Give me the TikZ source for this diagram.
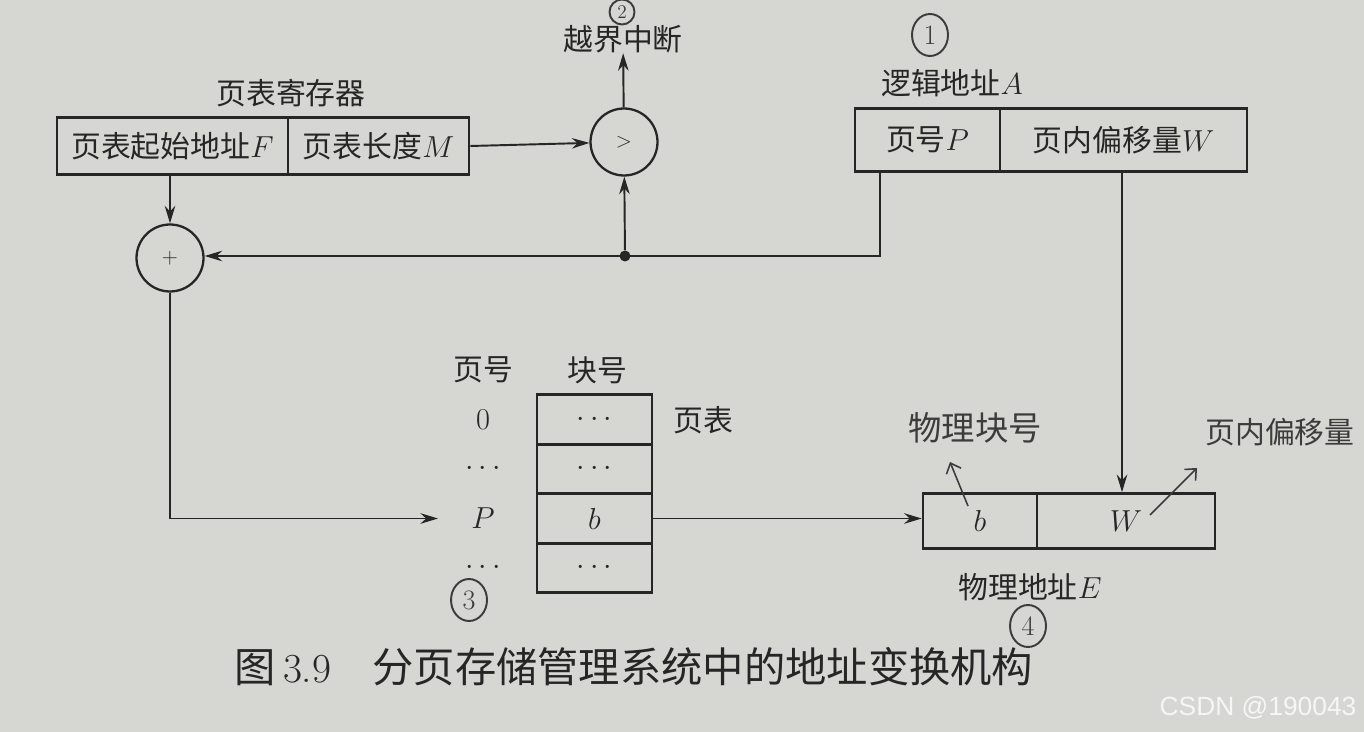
\documentclass[tikz,border=0pt]{standalone}
\usepackage{fontspec}
\usepackage{tikz}
\usetikzlibrary{positioning, shapes.geometric, arrows.meta, calc}
\usepackage{xcolor}
\newfontfamily\cjk{Noto Sans CJK SC}
\newfontfamily\wmfont{Liberation Sans}
\definecolor{pgpaper}{HTML}{D6D6D3}
\definecolor{pgink}{HTML}{262626}
\definecolor{pgpen}{HTML}{3C3C3C}
\definecolor{pgmark}{HTML}{F6F6F6}

\begin{document}
\begin{tikzpicture}[x=0.02cm, y=-0.02cm,
    txt/.style={text=pgink, font=\cjk\fontsize{17}{20}\selectfont, inner sep=0pt},
    cell/.style={draw=pgink, line width=1.5pt, text=pgink,
                 font=\cjk\fontsize{17}{20}\selectfont, inner sep=0pt},
    op/.style={circle, draw=pgink, line width=1.3pt, minimum size=1.34cm,
               inner sep=0pt, text=pgink, font=\fontsize{13}{15}\selectfont},
    link/.style={draw=pgink, line width=1.1pt, -{Stealth[length=10pt, width=6pt]}},
    hand/.style={text=pgpen, font=\cjk\fontsize{19}{22}\selectfont, inner sep=0pt},
    handnum/.style={ellipse, draw=pgpen, line width=1.1pt, text=pgpen,
                    minimum width=0.72cm, minimum height=0.84cm, inner sep=0pt,
                    font=\fontsize{16}{18}\selectfont},
    handarrow/.style={draw=pgpen, line width=0.9pt, -{Straight Barb[length=5pt, width=9pt]}}]
  \fill[pgpaper] (0,0) rectangle (1364,732);
  \useasboundingbox (0,0) rectangle (1364,732);

  % page table register
  \node[txt] (regtitle) at (291,93) {页表寄存器};
  \node[cell, minimum width=4.62cm, minimum height=1.14cm] (regF) at (172.5,146) {页表起始地址$F$};
  \node[cell, minimum width=3.62cm, minimum height=1.14cm] (regM) at (378.5,146) {页表长度$M$};

  \node[op] (cmp) at (624,142) {$>$};
  \node[txt] (intr) at (623,39) {越界中断};
  \node[handnum, minimum width=0.5cm, minimum height=0.5cm, font=\fontsize{11}{12}\selectfont] (n2) at (622,12) {2};

  % logical address
  \node[txt] (latitle) at (952,83) {逻辑地址$A$};
  \node[cell, minimum width=2.9cm, minimum height=1.26cm] (addrP) at (927.5,140) {页号$P$};
  \node[cell, minimum width=4.94cm, minimum height=1.26cm] (addrW) at (1123.5,140) {页内偏移量$W$};
  \node[handnum] (n1) at (930,35) {1};

  \node[op] (add) at (170,258) {$+$};
  \node[circle, fill=pgink, inner sep=0pt, minimum size=0.22cm] (split) at (625,256) {};
  \coordinate (pdrop) at (880,256);
  \coordinate (wdrop) at (1122,0);

  % page table
  \node[txt] (hpage) at (483,370) {页号};
  \node[txt] (hblock) at (597,370) {块号};
  \foreach \i/\yy/\num/\val in {0/419.5/0/\cdots, 1/469/\cdots/\cdots, 2/518.5/P/b, 3/568/\cdots/\cdots} {
    \node[cell, minimum width=2.3cm, minimum height=0.99cm] (row\i) at (594.5,\yy) {$\val$};
    \node[txt] (num\i) at (483,\yy) {$\num$};
  }
  \node[txt] (ptlabel) at (703,420) {页表};
  \node[handnum] (n3) at (469,600) {3};

  % physical address
  \node[cell, minimum width=2.28cm, minimum height=1.1cm] (physB) at (980,521) {$b$};
  \node[cell, minimum width=3.56cm, minimum height=1.1cm] (physW) at (1126,521) {$W$};
  \node[txt] (phystitle) at (1030,587) {物理地址$E$};
  \node[handnum] (n4) at (1028,626) {4};

  \draw[link] (add.north |- regF.south) -- (add.north);
  \draw[link] (regM.east) -- (cmp);
  \draw[link] (cmp) -- (intr);
  \draw[link] (addrP.south -| pdrop) -- (pdrop) -- (add.east |- pdrop);
  \draw[link] (split) -- (cmp);
  \draw[link, shorten >=0.66cm] (add.south) |- (num2.west);
  \draw[link] (row2.east) -- (physB.west |- row2.east);
  \draw[link] (addrW.south -| wdrop) -- (physW.north -| wdrop);

  % pencil notes
  \node[hand] (hb) at (975,428) {物理块号};
  \node[hand, font=\cjk\fontsize{17}{20}\selectfont] (hw) at (1280,432) {页内偏移量};
  \coordinate (bmark) at (968,506);
  \coordinate (bnote) at (950,462);
  \coordinate (wmark) at (1150,515);
  \coordinate (wnote) at (1197,468);
  \draw[handarrow] (bmark) -- (bnote);
  \draw[handarrow] (wmark) -- (wnote);

  \node[txt, font=\cjk\fontsize{23.5}{26}\selectfont] (cap) at (634,667)
    {图\,{\rmfamily 3.9}\quad 分页存储管理系统中的地址变换机构};
  \node[text=pgmark, font=\wmfont\fontsize{15}{17}\selectfont, inner sep=0pt] (wm) at (1258,708) {CSDN @190043};
\end{tikzpicture}
\end{document}
